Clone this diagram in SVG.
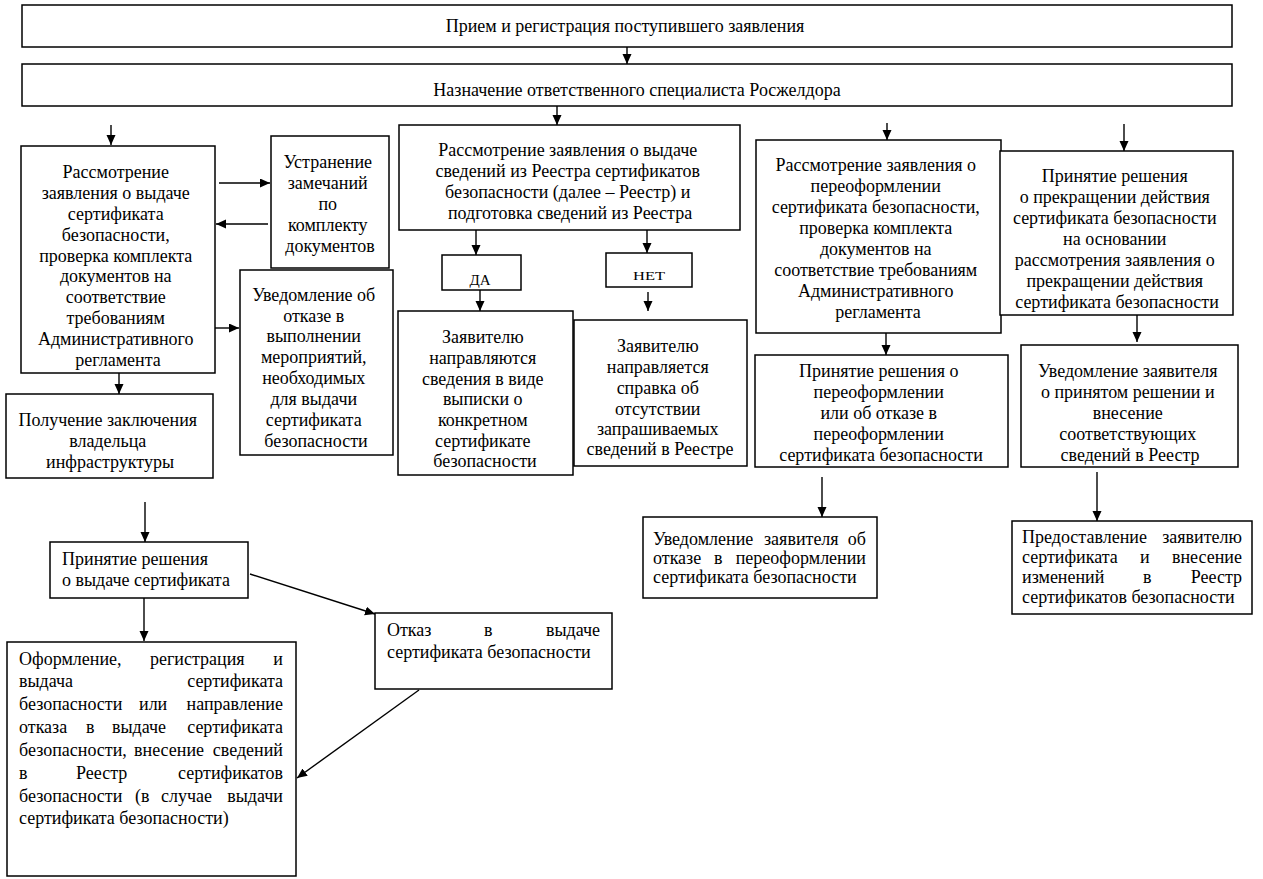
<svg xmlns="http://www.w3.org/2000/svg" width="1263" height="879" viewBox="0 0 1263 879">
<style>
.box{fill:#fff;stroke:#000;stroke-width:1.5}
.t{font-family:"Liberation Serif","Times New Roman",serif;font-size:18px;fill:#000;text-anchor:middle}
.l{text-anchor:start}
.e{text-anchor:end}
.c{stroke:#000;stroke-width:1.4;fill:none;marker-end:url(#ah)}
</style>
<defs>
<marker id="ah" markerUnits="userSpaceOnUse" markerWidth="10" markerHeight="10" refX="10" refY="4.5" orient="auto">
<path d="M0,0 L10,4.5 L0,9 z" fill="#000"/>
</marker>
</defs>
<rect width="1263" height="879" fill="#fff"/>

<g id="connectors">
<line class="c" x1="627" y1="47" x2="627" y2="64"/>
<line class="c" x1="557" y1="106" x2="557" y2="125"/>
<line class="c" x1="111" y1="125" x2="111" y2="145"/>
<line class="c" x1="887" y1="123" x2="887" y2="140"/>
<line class="c" x1="1124" y1="124" x2="1124" y2="151"/>
<line class="c" x1="219" y1="183" x2="270" y2="183"/>
<line class="c" x1="268" y1="224" x2="216" y2="224"/>
<line class="c" x1="215" y1="328" x2="239" y2="328"/>
<line class="c" x1="119" y1="373" x2="119" y2="394"/>
<line class="c" x1="145" y1="502" x2="145" y2="542"/>
<line class="c" x1="144" y1="598" x2="144" y2="641"/>
<line class="c" x1="250" y1="574" x2="375" y2="614"/>
<line class="c" x1="419" y1="690" x2="297" y2="778"/>
<line class="c" x1="476" y1="230" x2="476" y2="255"/>
<line class="c" x1="480" y1="290" x2="480" y2="311"/>
<line class="c" x1="647" y1="230" x2="647" y2="253"/>
<line class="c" x1="648" y1="292" x2="648" y2="311"/>
<line class="c" x1="886" y1="333" x2="886" y2="355"/>
<line class="c" x1="1137" y1="315" x2="1137" y2="342"/>
<line class="c" x1="822" y1="477" x2="822" y2="517"/>
<line class="c" x1="1097" y1="472" x2="1097" y2="521"/>
</g>

<g id="n1">
<rect class="box" x="22" y="5" width="1210" height="42"/>
<text class="t" x="625" y="32">Прием и регистрация поступившего заявления</text>
</g>

<g id="n2">
<rect class="box" x="22" y="64" width="1210" height="42"/>
<text class="t" x="637" y="96">Назначение ответственного специалиста Росжелдора</text>
</g>

<g id="nA">
<rect class="box" x="21" y="146" width="194" height="227"/>
<text class="t">
<tspan x="118" y="178">Рассмотрение</tspan>
<tspan x="118" y="199">заявления о выдаче</tspan>
<tspan x="118" y="220">сертификата</tspan>
<tspan x="118" y="241">безопасности,</tspan>
<tspan x="118" y="262">проверка комплекта</tspan>
<tspan x="118" y="282">документов на</tspan>
<tspan x="118" y="303">соответствие</tspan>
<tspan x="118" y="324">требованиям</tspan>
<tspan x="118" y="345">Административного</tspan>
<tspan x="118" y="366">регламента</tspan>
</text>
</g>

<g id="nU">
<rect class="box" x="271" y="136" width="118" height="132"/>
<text class="t">
<tspan x="330" y="168">Устранение</tspan>
<tspan x="330" y="189">замечаний</tspan>
<tspan x="330" y="210">по</tspan>
<tspan x="330" y="231">комплекту</tspan>
<tspan x="330" y="252">документов</tspan>
</text>
</g>

<g id="nO">
<rect class="box" x="240" y="270" width="153" height="185"/>
<text class="t">
<tspan x="316" y="301">Уведомление об</tspan>
<tspan x="316" y="322">отказе в</tspan>
<tspan x="316" y="342">выполнении</tspan>
<tspan x="316" y="363">мероприятий,</tspan>
<tspan x="316" y="384">необходимых</tspan>
<tspan x="316" y="405">для выдачи</tspan>
<tspan x="316" y="426">сертификата</tspan>
<tspan x="316" y="447">безопасности</tspan>
</text>
</g>

<g id="nP">
<rect class="box" x="6" y="394" width="207" height="84"/>
<text class="t">
<tspan x="110" y="426">Получение заключения</tspan>
<tspan x="110" y="447">владельца</tspan>
<tspan x="110" y="468">инфраструктуры</tspan>
</text>
</g>

<g id="nR">
<rect class="box" x="50" y="542" width="198" height="56"/>
<text class="t l">
<tspan x="62" y="565">Принятие решения</tspan>
<tspan x="62" y="586">о выдаче сертификата</tspan>
</text>
</g>

<g id="nF">
<rect class="box" x="7" y="642" width="289" height="234"/>
<text class="t l" x="19" y="665">Оформление,</text>
<text class="t l" x="150" y="665">регистрация</text>
<text class="t e" x="283" y="665">и</text>
<text class="t l" x="19" y="687">выдача</text>
<text class="t e" x="283" y="687">сертификата</text>
<text class="t l" x="19" y="710">безопасности</text>
<text class="t l" x="139" y="710">или</text>
<text class="t e" x="283" y="710">направление</text>
<text class="t l" x="19" y="733">отказа</text>
<text class="t l" x="86" y="733">в</text>
<text class="t l" x="112" y="733">выдаче</text>
<text class="t e" x="283" y="733">сертификата</text>
<text class="t l" x="19" y="756">безопасности,</text>
<text class="t l" x="134" y="756">внесение</text>
<text class="t e" x="283" y="756">сведений</text>
<text class="t l" x="19" y="779">в</text>
<text class="t l" x="76" y="779">Реестр</text>
<text class="t e" x="283" y="779">сертификатов</text>
<text class="t l" x="19" y="802">безопасности</text>
<text class="t l" x="135" y="802">(в</text>
<text class="t l" x="161" y="802">случае</text>
<text class="t e" x="283" y="802">выдачи</text>
<text class="t l" x="19" y="824">сертификата безопасности)</text>
</g>

<g id="nX">
<rect class="box" x="375" y="613" width="237" height="76"/>
<text class="t l" x="387" y="636">Отказ</text>
<text class="t l" x="484" y="636">в</text>
<text class="t e" x="600" y="636">выдаче</text>
<text class="t l" x="387" y="658">сертификата безопасности</text>
</g>

<g id="nS">
<rect class="box" x="399" y="125" width="341" height="105"/>
<text class="t">
<tspan x="570" y="156">Рассмотрение заявления о выдаче</tspan>
<tspan x="570" y="177">сведений из Реестра сертификатов</tspan>
<tspan x="570" y="198">безопасности (далее – Реестр) и</tspan>
<tspan x="570" y="219">подготовка сведений из Реестра</tspan>
</text>
</g>

<g id="nDA">
<rect class="box" x="442" y="255" width="79" height="35"/>
<text class="t" x="480" y="285" style="font-size:15px">ДА</text>
</g>

<g id="nNET">
<rect class="box" x="606" y="253" width="86" height="34"/>
<text class="t" x="649" y="280" style="font-size:13px" textLength="32" lengthAdjust="spacingAndGlyphs">НЕТ</text>
</g>

<g id="nD1">
<rect class="box" x="398" y="311" width="175" height="164"/>
<text class="t">
<tspan x="485" y="343">Заявителю</tspan>
<tspan x="485" y="364">направляются</tspan>
<tspan x="485" y="385">сведения в виде</tspan>
<tspan x="485" y="405">выписки о</tspan>
<tspan x="485" y="426">конкретном</tspan>
<tspan x="485" y="447">сертификате</tspan>
<tspan x="485" y="467">безопасности</tspan>
</text>
</g>

<g id="nD2">
<rect class="box" x="574" y="320" width="173" height="146"/>
<text class="t">
<tspan x="660" y="352">Заявителю</tspan>
<tspan x="660" y="373">направляется</tspan>
<tspan x="660" y="394">справка об</tspan>
<tspan x="660" y="415">отсутствии</tspan>
<tspan x="660" y="435">запрашиваемых</tspan>
<tspan x="660" y="455">сведений в Реестре</tspan>
</text>
</g>

<g id="nQ">
<rect class="box" x="756" y="140" width="245" height="193"/>
<text class="t">
<tspan x="878" y="171">Рассмотрение заявления о</tspan>
<tspan x="878" y="192">переоформлении</tspan>
<tspan x="878" y="213">сертификата безопасности,</tspan>
<tspan x="878" y="234">проверка комплекта</tspan>
<tspan x="878" y="255">документов на</tspan>
<tspan x="878" y="276">соответствие требованиям</tspan>
<tspan x="878" y="297">Административного</tspan>
<tspan x="878" y="318">регламента</tspan>
</text>
</g>

<g id="nK">
<rect class="box" x="1000" y="151" width="233" height="164"/>
<text class="t">
<tspan x="1117" y="182">Принятие решения</tspan>
<tspan x="1117" y="203">о прекращении действия</tspan>
<tspan x="1117" y="224">сертификата безопасности</tspan>
<tspan x="1117" y="245">на основании</tspan>
<tspan x="1117" y="266">рассмотрения заявления о</tspan>
<tspan x="1117" y="287">прекращении действия</tspan>
<tspan x="1117" y="308">сертификата безопасности</tspan>
</text>
</g>

<g id="nQ2">
<rect class="box" x="755" y="355" width="253" height="112"/>
<text class="t">
<tspan x="881" y="377">Принятие решения о</tspan>
<tspan x="881" y="398">переоформлении</tspan>
<tspan x="881" y="419">или об отказе в</tspan>
<tspan x="881" y="440">переоформлении</tspan>
<tspan x="881" y="461">сертификата безопасности</tspan>
</text>
</g>

<g id="nK2">
<rect class="box" x="1021" y="345" width="217" height="122"/>
<text class="t">
<tspan x="1130" y="377">Уведомление заявителя</tspan>
<tspan x="1130" y="398">о принятом решении и</tspan>
<tspan x="1130" y="419">внесение</tspan>
<tspan x="1130" y="440">соответствующих</tspan>
<tspan x="1130" y="461">сведений в Реестр</tspan>
</text>
</g>

<g id="nN">
<rect class="box" x="643" y="517" width="234" height="81"/>
<text class="t l" x="653" y="545">Уведомление</text>
<text class="t l" x="764" y="545">заявителя</text>
<text class="t e" x="866" y="545">об</text>
<text class="t l" x="653" y="564">отказе</text>
<text class="t l" x="714" y="564">в</text>
<text class="t e" x="866" y="564">переоформлении</text>
<text class="t l" x="653" y="583">сертификата безопасности</text>
</g>

<g id="nPr">
<rect class="box" x="1012" y="521" width="240" height="93"/>
<text class="t l" x="1022" y="543">Предоставление</text>
<text class="t e" x="1242" y="543">заявителю</text>
<text class="t l" x="1022" y="563">сертификата</text>
<text class="t l" x="1140" y="563">и</text>
<text class="t e" x="1242" y="563">внесение</text>
<text class="t l" x="1022" y="583">изменений</text>
<text class="t l" x="1143" y="583">в</text>
<text class="t e" x="1242" y="583">Реестр</text>
<text class="t l" x="1022" y="603">сертификатов безопасности</text>
</g>
</svg>
